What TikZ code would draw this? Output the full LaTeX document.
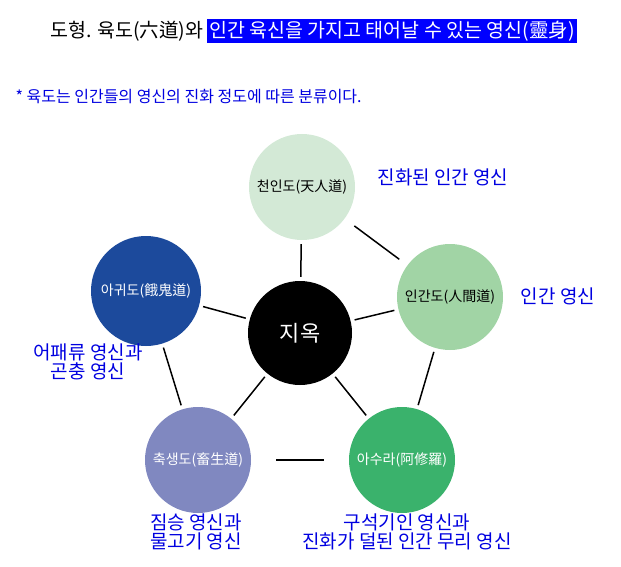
\documentclass[tikz,border=0pt]{standalone}
\usepackage{fontspec}
\setmainfont{Noto Sans CJK KR}
\usetikzlibrary{calc}
\definecolor{cheaven}{HTML}{D3E9D6}
\definecolor{chuman}{HTML}{A1D4A5}
\definecolor{casura}{HTML}{3AB26C}
\definecolor{canimal}{HTML}{8088C0}
\definecolor{cghost}{HTML}{1C4A9C}
\definecolor{cnote}{HTML}{0000E0}
\begin{document}
\begin{tikzpicture}[x=1pt,y=-1pt]

    % circles of the six paths and the labels around them
    \tikzset{
        realm/.style={circle, minimum size=106pt, inner sep=0pt, font=\fontsize{14}{16}\selectfont},
        note/.style={text=cnote, align=center, font=\fontsize{19}{19}\selectfont},
        link/.style={line width=1.5pt, shorten <=4pt, shorten >=4pt}
    }
    \useasboundingbox (0,0) rectangle (621,567);

    % title line
    \node (title) [anchor=east, font=\fontsize{19.5}{20}\selectfont] at (207,31) {도형. 육도(六道)와};
    \node (mark) [anchor=west, fill=blue, text=white, inner sep=2pt,
        font=\fontsize{19.5}{20}\selectfont] at (207,31) {인간 육신을 가지고 태어날 수 있는 영신(靈身)};
    \node (sub) [anchor=west, text=cnote, font=\fontsize{16}{18}\selectfont] at (12,97)
        {* 육도는 인간들의 영신의 진화 정도에 따른 분류이다.};

    \begin{scope}
        \node (hell) [realm, fill=black, text=white, minimum size=104pt,
            font=\fontsize{22}{24}\selectfont] at (300,333) {지옥};
        \node (heaven) [realm, fill=cheaven] at (302,187) {천인도(天人道)};
        \node (human) [realm, fill=chuman] at (450,297) {인간도(人間道)};
        \node (asura) [realm, fill=casura, text=white] at (402,460) {아수라(阿修羅)};
        \node (animal) [realm, fill=canimal, text=white] at (198,460) {축생도(畜生道)};
        \node (ghost) [realm, fill=cghost, text=white, minimum size=110pt] at (146,291) {아귀도(餓鬼道)};
    \end{scope}

    \begin{scope}
        \draw[link] (hell) -- (heaven);
        \draw[link] (hell) -- (human);
        \draw[link] (hell) -- (asura);
        \draw[link] (hell) -- (animal);
        \draw[link] (hell) -- (ghost);
        \draw[link, shorten <=12pt, shorten >=10pt] (heaven) -- (human);
        \draw[link] (human) -- (asura);
        \draw[link, shorten <=25pt, shorten >=25pt] (asura) -- (animal);
        \draw[link] (animal) -- (ghost);
    \end{scope}

    \node (nheaven) [note] at (443,177) {진화된 인간 영신};
    \node (nhuman) [note] at (558,296) {인간 영신};
    \node (nghost) [note] at (88,362) {어패류 영신과\\곤충 영신};
    \node (nanimal) [note] at (196,532) {짐승 영신과\\물고기 영신};
    \node (nasura) [note] at (407,532) {구석기인 영신과\\진화가 덜된 인간 무리 영신};

\end{tikzpicture}
\end{document}
